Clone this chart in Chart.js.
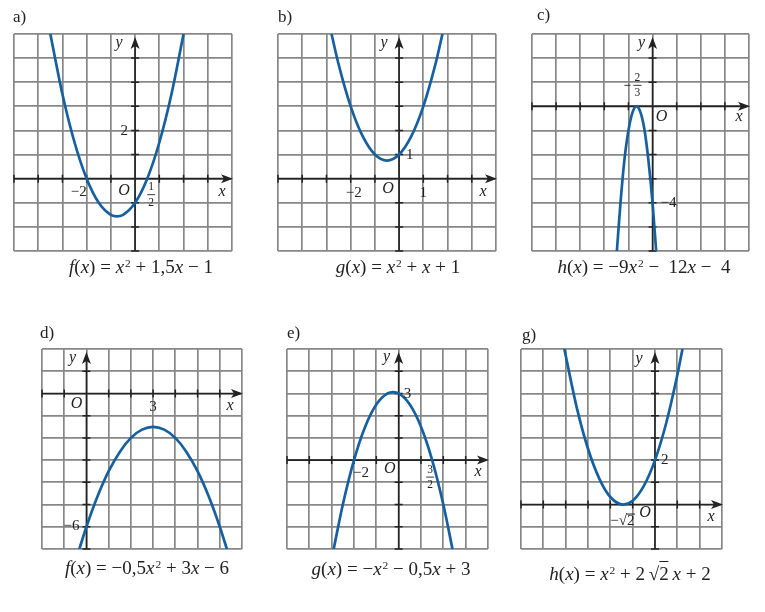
<!DOCTYPE html>
<html>
<head>
<meta charset="utf-8">
<script src="https://cdn.jsdelivr.net/npm/chart.js@4"></script>
<style>
  body { margin: 0; background: #fff; }
  #wrap { position: relative; width: 765px; height: 612px; overflow: hidden; font-family: "Liberation Serif", serif; color: #222; }
  canvas { position: absolute; }
  .lbl { position: absolute; font-size: 17px; line-height: 18px; }
  .cap { position: absolute; font-size: 19px; line-height: 22px; white-space: nowrap; transform: translate(-50%, -50%); }
  .cap sup { font-size: 0.6em; position: relative; top: -0.55em; vertical-align: baseline; margin-left: 1px; }
  .ov { border-top: 1.2px solid #222; padding-top: 1px; }
</style>
</head>
<body>
<div id="wrap">
  <canvas id="ca"></canvas><canvas id="cb"></canvas><canvas id="cc"></canvas>
  <canvas id="cd"></canvas><canvas id="ce"></canvas><canvas id="cg"></canvas>

  <div class="lbl" style="left:13px;top:8px">a)</div>
  <div class="lbl" style="left:278px;top:8px">b)</div>
  <div class="lbl" style="left:537px;top:6px">c)</div>
  <div class="lbl" style="left:40px;top:324px">d)</div>
  <div class="lbl" style="left:287px;top:324px">e)</div>
  <div class="lbl" style="left:522px;top:326px">g)</div>

  <div class="cap" style="left:141px;top:268px"><i>f</i>(<i>x</i>) = <i>x</i><sup>2</sup> + 1,5<i>x</i> − 1</div>
  <div class="cap" style="left:398px;top:268px"><i>g</i>(<i>x</i>) = <i>x</i><sup>2</sup> + <i>x</i> + 1</div>
  <div class="cap" style="left:644px;top:268px"><i>h</i>(<i>x</i>) = −9<i>x</i><sup>2</sup> − &nbsp;12<i>x</i> − &nbsp;4</div>
  <div class="cap" style="left:147px;top:569px"><i>f</i>(<i>x</i>) = −0,5<i>x</i><sup>2</sup> + 3<i>x</i> − 6</div>
  <div class="cap" style="left:391px;top:570px"><i>g</i>(<i>x</i>) = −<i>x</i><sup>2</sup> − 0,5<i>x</i> + 3</div>
  <div class="cap" style="left:630px;top:575px"><i>h</i>(<i>x</i>) = <i>x</i><sup>2</sup> + 2&thinsp;√<span class="ov">2</span>&thinsp;<i>x</i> + 2</div>
</div>

<script>
// valeurs
const xsA = [-3.5, -3, -2.5, -2, -1.5, -1, -0.75, -0.5, 0, 0.5, 1, 1.5, 2];
const ysA = [6, 3.5, 1.5, 0, -1, -1.5, -1.56, -1.5, -1, 0, 1.5, 3.5, 6];

const xsB = [-2.79, -2.5, -2, -1.5, -1, -0.5, 0, 0.5, 1, 1.5, 1.79];
const ysB = [6, 4.75, 3, 1.75, 1, 0.75, 1, 1.75, 3, 4.75, 6];

const xsC = [-1.48, -1.33, -1.17, -1, -0.83, -0.67, -0.5, -0.33, -0.17, 0, 0.15];
const ysC = [-6, -4, -2.25, -1, -0.25, 0, -0.25, -1, -2.25, -4, -6];

const xsD = [-0.32, 0, 0.5, 1, 1.5, 2, 2.5, 3, 3.5, 4, 4.5, 5, 5.5, 6, 6.32];
const ysD = [-7, -6, -4.63, -3.5, -2.63, -2, -1.63, -1.5, -1.63, -2, -2.63, -3.5, -4.63, -6, -7];

const xsE = [-2.91, -2.5, -2, -1.5, -1, -0.5, -0.25, 0, 0.5, 1, 1.5, 2, 2.41];
const ysE = [-4, -2, 0, 1.5, 2.5, 3, 3.06, 3, 2.5, 1.5, 0, -2, -4];

const xsG = [-4.06, -3.5, -3, -2.5, -2, -1.41, -1, -0.5, 0, 0.5, 1, 1.23];
const ysG = [7, 4.35, 2.51, 1.18, 0.34, 0, 0.17, 0.84, 2, 3.66, 5.83, 7];

const ink = '#222';

// axes Ox, Oy avec flèches, graduations et textes
const axesPlugin = {
  id: 'axes',
  beforeDatasetsDraw(chart) {
    const { ctx, chartArea: a, scales: { x, y } } = chart;
    const ox = x.getPixelForValue(0), oy = y.getPixelForValue(0);
    ctx.save();
    ctx.strokeStyle = ink; ctx.fillStyle = ink;
    ctx.lineWidth = 1.6;
    ctx.beginPath();
    ctx.moveTo(a.left, oy); ctx.lineTo(a.right - 6, oy);
    ctx.moveTo(ox, a.bottom); ctx.lineTo(ox, a.top + 10);
    ctx.stroke();

    ctx.lineWidth = 1.5;
    ctx.beginPath();
    x.ticks.forEach(t => {
      if (t.value === 0 || t.value === x.max) return;
      const px = x.getPixelForValue(t.value);
      ctx.moveTo(px, oy - 4); ctx.lineTo(px, oy + 4);
    });
    y.ticks.forEach(t => {
      if (t.value === 0 || t.value === y.max) return;
      const py = y.getPixelForValue(t.value);
      ctx.moveTo(ox - 4, py); ctx.lineTo(ox + 4, py);
    });
    ctx.stroke();

    // flèches
    ctx.beginPath();
    ctx.moveTo(a.right + 1, oy); ctx.lineTo(a.right - 11, oy - 4.5);
    ctx.lineTo(a.right - 8, oy); ctx.lineTo(a.right - 11, oy + 4.5);
    ctx.closePath();
    ctx.moveTo(ox, a.top + 3); ctx.lineTo(ox - 4.5, a.top + 15);
    ctx.lineTo(ox, a.top + 12); ctx.lineTo(ox + 4.5, a.top + 15);
    ctx.closePath();
    ctx.fill();
    ctx.restore();
  },
  afterDraw(chart, args, opts) {
    const { ctx, scales: { x, y } } = chart;
    ctx.save();
    ctx.fillStyle = ink; ctx.strokeStyle = ink;
    ctx.textBaseline = 'middle';
    (opts.labels || []).forEach(l => {
      const px = x.getPixelForValue(l.x) + l.dx;
      const py = y.getPixelForValue(l.y) + l.dy;
      if (l.fr) {
        ctx.font = '11.5px "Liberation Serif"';
        ctx.textAlign = 'center';
        ctx.fillText(l.fr[0], px, py - 7.5);
        ctx.fillText(l.fr[1], px, py + 8);
        ctx.lineWidth = 0.9;
        ctx.beginPath();
        ctx.moveTo(px - 4, py); ctx.lineTo(px + 4, py);
        if (l.minus) { ctx.moveTo(px - 13, py); ctx.lineTo(px - 7, py); }
        ctx.stroke();
        return;
      }
      ctx.font = (l.it ? 'italic 16px' : '15px') + ' "Liberation Serif"';
      ctx.textAlign = l.al || 'center';
      ctx.fillText(l.t, px, py);
      if (l.rad) {
        const w = ctx.measureText(l.t).width;
        const w0 = ctx.measureText(l.t.slice(0, -1)).width;
        const left = px - w / 2;
        ctx.lineWidth = 1;
        ctx.beginPath();
        ctx.moveTo(left + w0 - 0.5, py - 7.5); ctx.lineTo(left + w + 0.5, py - 7.5);
        ctx.stroke();
      }
    });
    ctx.restore();
  }
};

function makeChart(id, box, xr, yr, xs, ys, labels) {
  const pad = 22;
  const cv = document.getElementById(id);
  cv.width = box.w + 2 * pad;
  cv.height = box.h + 2 * pad;
  cv.style.left = (box.l - pad) + 'px';
  cv.style.top = (box.t - pad) + 'px';
  const grid = { color: '#878787', lineWidth: 1.7, drawTicks: false };
  new Chart(cv, {
    type: 'line',
    data: {
      datasets: [{
        data: xs.map((v, i) => ({ x: v, y: ys[i] })),
        borderColor: '#17609f',
        borderWidth: 2.7,
        pointRadius: 0,
        cubicInterpolationMode: 'monotone',
        fill: false
      }]
    },
    options: {
      responsive: false,
      animation: false,
      events: [],
      layout: { padding: pad },
      plugins: { legend: { display: false }, tooltip: { enabled: false }, axes: { labels: labels } },
      scales: {
        x: { type: 'linear', min: xr[0], max: xr[1], ticks: { display: false, stepSize: 1 }, grid: grid, border: { display: false } },
        y: { type: 'linear', min: yr[0], max: yr[1], ticks: { display: false, stepSize: 1 }, grid: grid, border: { display: false } }
      }
    },
    plugins: [axesPlugin]
  });
}

makeChart('ca', { l: 14, t: 34, w: 218, h: 217 }, [-5, 4], [-3, 6], xsA, ysA, [
  { t: 'y', x: 0, y: 6, dx: -16, dy: 9, it: true },
  { t: 'x', x: 4, y: 0, dx: -10, dy: 13, it: true },
  { t: '2', x: 0, y: 2, dx: -7, dy: 1, al: 'right' },
  { t: '−2', x: -2, y: 0, dx: -8, dy: 13 },
  { t: 'O', x: 0, y: 0, dx: -11, dy: 12, it: true },
  { fr: ['1', '2'], x: 0.5, y: 0, dx: 4, dy: 16 }
]);

makeChart('cb', { l: 278, t: 34, w: 218, h: 217 }, [-5, 4], [-3, 6], xsB, ysB, [
  { t: 'y', x: 0, y: 6, dx: -15, dy: 9, it: true },
  { t: 'x', x: 4, y: 0, dx: -13, dy: 13, it: true },
  { t: '1', x: 0, y: 1, dx: 7, dy: 1, al: 'left' },
  { t: '−2', x: -2, y: 0, dx: 3, dy: 14 },
  { t: 'O', x: 0, y: 0, dx: -11, dy: 10, it: true },
  { t: '1', x: 1, y: 0, dx: 0, dy: 14 }
]);

makeChart('cc', { l: 532, t: 34, w: 217, h: 217 }, [-5, 4], [-6, 3], xsC, ysC, [
  { t: 'y', x: 0, y: 3, dx: -11, dy: 9, it: true },
  { t: 'x', x: 4, y: 0, dx: -10, dy: 10, it: true },
  { fr: ['2', '3'], minus: true, x: -0.667, y: 0, dx: 1, dy: -21 },
  { t: 'O', x: 0, y: 0, dx: 9, dy: 10, it: true },
  { t: '−4', x: 0, y: -4, dx: 8, dy: 0, al: 'left' }
]);

makeChart('cd', { l: 42, t: 349, w: 200, h: 200 }, [-2, 7], [-7, 2], xsD, ysD, [
  { t: 'y', x: 0, y: 2, dx: -14, dy: 9, it: true },
  { t: 'x', x: 7, y: 0, dx: -12, dy: 12, it: true },
  { t: 'O', x: 0, y: 0, dx: -10, dy: 10, it: true },
  { t: '3', x: 3, y: 0, dx: 0, dy: 14 },
  { t: '−6', x: 0, y: -6, dx: -7, dy: -1, al: 'right' }
]);

makeChart('ce', { l: 287, t: 349, w: 201, h: 200 }, [-5, 4], [-4, 5], xsE, ysE, [
  { t: 'y', x: 0, y: 5, dx: -12, dy: 8, it: true },
  { t: 'x', x: 4, y: 0, dx: -10, dy: 12, it: true },
  { t: '3', x: 0, y: 3, dx: 5, dy: 1, al: 'left' },
  { t: '−2', x: -2, y: 0, dx: 7, dy: 13 },
  { t: 'O', x: 0, y: 0, dx: -9, dy: 9, it: true },
  { fr: ['3', '2'], x: 1.5, y: 0, dx: -2, dy: 17 }
]);

makeChart('cg', { l: 521, t: 349, w: 201, h: 200 }, [-6, 3], [-2, 7], xsG, ysG, [
  { t: 'y', x: 0, y: 7, dx: -16, dy: 10, it: true },
  { t: 'x', x: 3, y: 0, dx: -11, dy: 12, it: true },
  { t: '2', x: 0, y: 2, dx: 6, dy: 0, al: 'left' },
  { t: '−√2', x: -1.414, y: 0, dx: -1, dy: 17, rad: true },
  { t: 'O', x: 0, y: 0, dx: -10, dy: 8, it: true }
]);
</script>
</body>
</html>
